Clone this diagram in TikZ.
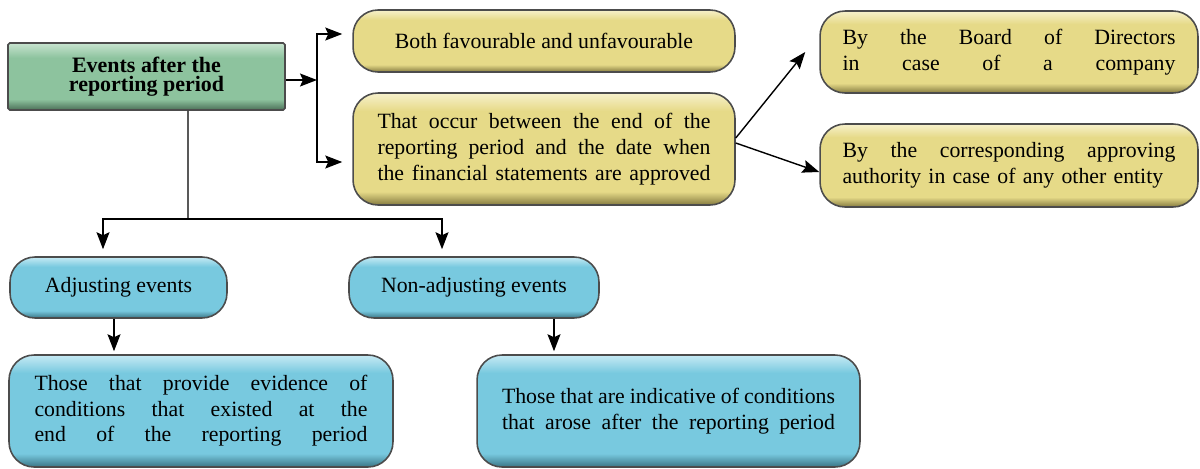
\documentclass[tikz,border=0pt]{standalone}
\usepackage{fontspec}
\setmainfont{Liberation Serif}
\usetikzlibrary{arrows.meta}

% box colours
\definecolor{yelMain}{HTML}{E6DA88}
\definecolor{yelLight}{HTML}{F7F1CC}
\definecolor{yelDark}{HTML}{857B40}
\definecolor{bluMain}{HTML}{78C9DF}
\definecolor{bluLight}{HTML}{C6EAF4}
\definecolor{bluDark}{HTML}{3A7585}
\definecolor{grnMain}{HTML}{8DC39E}
\definecolor{grnLight}{HTML}{C8E4D0}
\definecolor{grnDark}{HTML}{4C6F57}

% bevel shadings
\pgfdeclareverticalshading{yelBevel}{100bp}{color(0bp)=(yelDark); color(25bp)=(yelDark); color(31bp)=(yelMain); color(67bp)=(yelMain); color(75bp)=(yelLight); color(100bp)=(yelLight)}
\pgfdeclareverticalshading{bluBevel}{100bp}{color(0bp)=(bluDark); color(25bp)=(bluDark); color(31bp)=(bluMain); color(67bp)=(bluMain); color(75bp)=(bluLight); color(100bp)=(bluLight)}
\pgfdeclareverticalshading{grnBevel}{100bp}{color(0bp)=(grnDark); color(25bp)=(grnDark); color(33bp)=(grnMain); color(64bp)=(grnMain); color(75bp)=(grnLight); color(100bp)=(grnLight)}

% text lines stacked in a box: spread line (words split by \hfill) and natural line
\newcommand{\fline}[1]{\hbox to 6.66cm{#1}}
\newcommand{\nline}[1]{\hbox{#1}}

\tikzset{
  box/.style={draw=gray!60!black, line width=0.9pt, rounded corners=0.5cm, shade,
    font=\fontsize{12.4}{14.6}\selectfont},
  yelbox/.style={box, shading=yelBevel},
  blubox/.style={box, shading=bluBevel},
  textbox/.style={text width=6.66cm, align=left},
  rootbox/.style={box, rounded corners=1pt, shading=grnBevel, align=center,
    font=\bfseries\fontsize{12.5}{11}\selectfont},
  arr/.style={-{Stealth[length=0.34cm, width=0.26cm, inset=0.06cm]}, line width=0.8pt},
}

\begin{document}
\begin{tikzpicture}[x=0.02cm, y=-0.02cm]
    \useasboundingbox (0,0) rectangle (1200,468);

    % Main box
    \node[rootbox, minimum width=5.54cm, minimum height=1.34cm] (root) at (146.5,76.5) {Events after the\\reporting period};

    % Yellow boxes
    \node[yelbox, minimum width=7.64cm, minimum height=1.24cm] (fav) at (544,41) {Both favourable and unfavourable};
    \node[yelbox, textbox, minimum width=7.64cm, minimum height=2.24cm] (occur) at (544,149)
        {\fline{That\hfill occur\hfill between\hfill the\hfill end\hfill of\hfill the}
         \fline{reporting\hfill period\hfill and\hfill the\hfill date\hfill when}
         \fline{the\hfill financial\hfill statements\hfill are\hfill approved}};
    \node[yelbox, textbox, minimum width=7.56cm, minimum height=1.64cm] (board) at (1009,52)
        {\fline{By\hfill the\hfill Board\hfill of\hfill Directors}
         \fline{in\hfill case\hfill of\hfill a\hfill company}};
    \node[yelbox, textbox, minimum width=7.56cm, minimum height=1.66cm] (authority) at (1009,165.5)
        {\fline{By\hfill the\hfill corresponding\hfill approving}
         \nline{authority in case of any other entity}};

    % Blue boxes
    \node[blubox, minimum width=4.34cm, minimum height=1.22cm] (adj) at (118.5,287.5) {Adjusting events};
    \node[blubox, minimum width=5cm, minimum height=1.22cm] (nonadj) at (474,287.5) {Non-adjusting events};
    \node[blubox, textbox, minimum width=7.68cm, minimum height=2.24cm] (evidence) at (201,411)
        {\fline{Those\hfill that\hfill provide\hfill evidence\hfill of}
         \fline{conditions\hfill that\hfill existed\hfill at\hfill the}
         \fline{end\hfill of\hfill the\hfill reporting\hfill period}};
    \node[blubox, textbox, minimum width=7.66cm, minimum height=2.24cm] (indicative) at (668.5,411)
        {\fline{Those\hfill that\hfill are\hfill indicative\hfill of\hfill conditions}
         \fline{that\hfill arose\hfill after\hfill the\hfill reporting\hfill period}};

    % Connectors
    \coordinate (split) at (317,80);
    \coordinate (fork) at (188,219);
    \draw[arr] (root.east |- split) -- (split);
    \draw[arr] (split) |- ([xshift=-0.2cm, yshift=0.14cm]fav.west);
    \draw[arr] (split) |- ([xshift=-0.2cm, yshift=-0.26cm]occur.west);
    \draw[arr] ([yshift=0.22cm]occur.east) -- ([xshift=-0.28cm]board.west);
    \draw[arr] ([yshift=0.12cm]occur.east) -- ([yshift=-0.13cm]authority.west);

    \draw[line width=0.8pt] ([xshift=0.83cm]root.south) -- (fork);
    \draw[arr] (fork) -| ([xshift=-0.31cm, yshift=0.14cm]adj.north);
    \draw[arr] (fork) -| ([xshift=-0.64cm, yshift=0.14cm]nonadj.north);

    \coordinate (adjOut) at ([xshift=-0.09cm]adj.south);
    \coordinate (nonOut) at ([xshift=1.6cm]nonadj.south);
    \draw[arr, shorten >=0.06cm] (adjOut) -- (adjOut |- evidence.north);
    \draw[arr, shorten >=0.06cm] (nonOut) -- (nonOut |- indicative.north);
\end{tikzpicture}
\end{document}
